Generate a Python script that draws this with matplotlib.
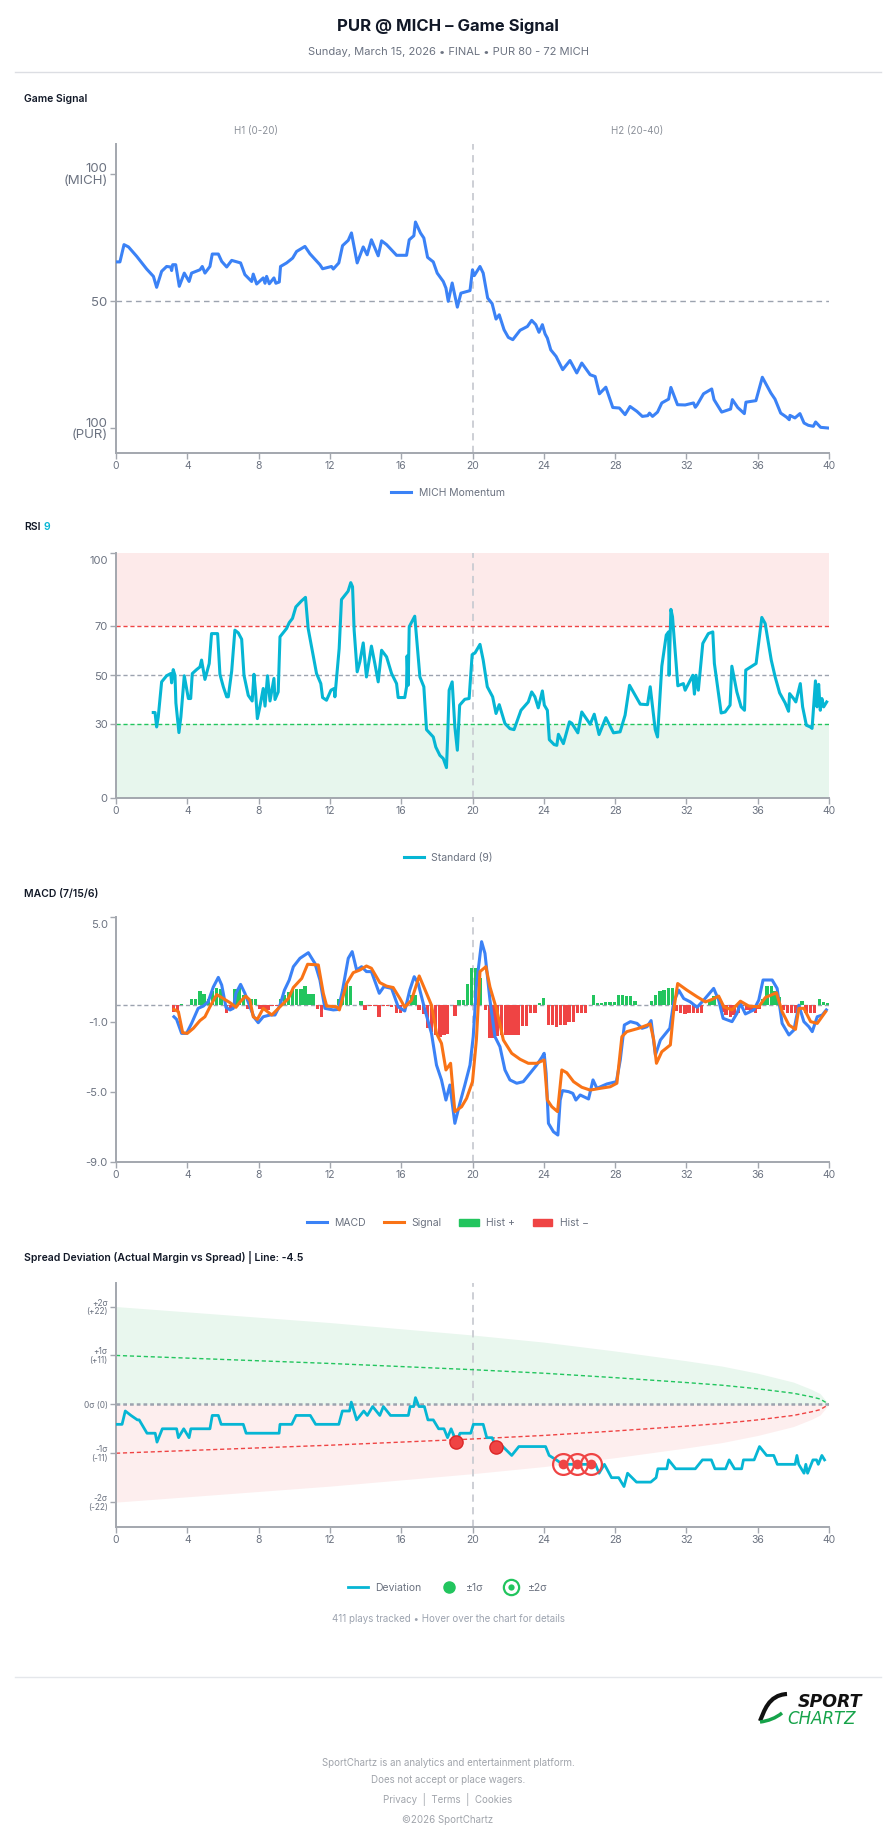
import numpy as np
import matplotlib
matplotlib.use('Agg')
import matplotlib.pyplot as plt
from matplotlib.lines import Line2D
from matplotlib.patches import Patch, PathPatch
from matplotlib.path import Path
from matplotlib.legend_handler import HandlerTuple
from matplotlib.transforms import ScaledTranslation

plt.rcParams['font.family'] = ['Inter', 'DejaVu Sans']

W, H = 896, 1845
def fx(px): return px / W
def fy(py): return 1 - py / H

BLUE = '#3b82f6'; CYAN = '#06b6d4'; ORANGE = '#f97316'
GREEN = '#22c55e'; RED = '#ef4444'; GRAY = '#6b7280'; AX = '#a3a7ae'

# ---- data (game minute, value) ----
momentum = [(0,65.4),(0.22,65.4),(0.45,72.2),(0.7,71.3),(1.16,67.6),(1.72,62.6),(2.1,59.7),(2.28,55.4),(2.56,61.7),(2.84,63.6),(3.07,63.4),(3.12,62.0),(3.18,64.3),(3.35,64.3),(3.55,55.8),(3.83,61.0),(4.1,57.7),(4.24,61.0),(4.71,62.3),(4.84,63.6),(4.99,61.0),(5.27,63.6),(5.4,68.5),(5.74,68.5),(5.93,65.6),(6.21,63.4),(6.49,66.0),(6.99,65.0),(7.23,60.4),(7.61,57.7),(7.7,60.6),(7.89,56.7),(8.26,59.1),(8.36,57.0),(8.45,59.7),(8.6,56.8),(8.86,59.1),(8.97,57.0),(9.16,57.5),(9.23,63.6),(9.57,65.0),(9.91,66.9),(10.13,69.5),(10.6,71.5),(10.88,68.6),(11.44,64.3),(11.59,62.7),(12.09,63.6),(12.19,62.6),(12.5,65.0),(12.71,71.8),(13.03,73.9),(13.21,76.8),(13.53,65.0),(13.87,71.3),(14.09,68.2),(14.33,74.1),(14.71,67.8),(14.9,73.7),(15.18,72.2),(15.74,68.0),(16.3,68.0),(16.45,74.1),(16.71,75.7),(16.8,81.1),(17.08,76.8),(17.27,74.8),(17.48,67.2),(17.8,65.4),(18.02,61.0),(18.36,57.7),(18.51,55.1),(18.64,49.9),(18.86,57.1),(19.15,47.6),(19.35,53.1),(19.86,54.1),(20.0,62.3),(20.1,60.0),(20.42,63.6),(20.6,61.0),(20.85,51.2),(21.1,49.0),(21.32,42.9),(21.5,44.6),(21.77,38.7),(22.01,35.7),(22.26,34.8),(22.67,38.5),(23.08,40.0),(23.32,42.4),(23.55,40.7),(23.73,37.7),(23.92,40.7),(24.07,37.1),(24.2,35.4),(24.39,30.8),(24.69,28.2),(25.06,23.0),(25.47,26.6),(25.85,21.7),(26.13,25.6),(26.6,21.0),(26.88,20.3),(27.12,13.5),(27.48,16.1),(27.87,8.1),(28.24,7.9),(28.56,5.3),(28.84,8.5),(29.22,6.6),(29.53,4.6),(29.83,4.9),(29.93,5.9),(30.1,4.6),(30.38,6.3),(30.62,9.9),(31.0,11.4),(31.13,16.0),(31.5,9.2),(31.93,9.1),(32.4,9.9),(32.5,8.2),(32.6,9.1),(32.96,13.5),(33.42,15.4),(33.55,11.2),(33.98,6.3),(34.48,7.5),(34.58,11.2),(34.88,8.1),(35.25,5.7),(35.34,10.2),(35.9,10.8),(36.26,20.0),(36.74,13.8),(36.97,11.4),(37.29,5.9),(37.62,4.3),(37.77,3.3),(37.81,5.0),(38.09,4.0),(38.37,5.7),(38.6,2.0),(38.84,1.1),(39.12,0.7),(39.25,2.4),(39.53,0.3),(40.0,0.0)]

rsi = [(2.09,34.9),(2.19,34.9),(2.28,29.0),(2.37,33.1),(2.56,47.4),(2.84,49.9),(3.07,50.8),(3.12,47.0),(3.21,52.4),(3.31,50.0),(3.36,38.8),(3.53,26.7),(3.64,33.1),(3.83,49.9),(4.06,40.6),(4.19,40.6),(4.28,50.8),(4.52,52.4),(4.71,53.5),(4.80,56.3),(4.99,48.4),(5.23,54.9),(5.36,67.1),(5.70,67.1),(5.83,50.5),(6.02,45.4),(6.21,41.3),(6.30,41.3),(6.49,51.8),(6.67,68.5),(6.86,67.4),(7.05,64.8),(7.18,50.1),(7.42,41.9),(7.64,39.6),(7.74,50.5),(7.83,43.3),(7.93,32.4),(8.07,37.2),(8.26,44.7),(8.36,37.5),(8.50,49.9),(8.64,39.6),(8.86,48.8),(8.92,40.2),(9.10,43.3),(9.20,65.8),(9.57,69.2),(9.72,71.6),(9.90,73.3),(10.09,78.0),(10.40,80.4),(10.63,81.9),(10.78,69.2),(10.97,61.7),(11.25,50.8),(11.49,46.7),(11.59,41.0),(11.81,39.9),(12.06,44.0),(12.24,44.7),(12.28,41.3),(12.52,61.0),(12.65,81.0),(13.02,84.4),(13.17,87.9),(13.27,86.2),(13.36,68.5),(13.53,51.5),(13.68,55.6),(13.87,63.3),(14.05,49.4),(14.33,62.0),(14.52,54.9),(14.71,47.4),(14.90,60.3),(15.18,57.6),(15.46,50.8),(15.74,46.7),(15.83,41.0),(16.20,41.0),(16.30,45.4),(16.33,58.0),(16.39,46.0),(16.45,69.9),(16.76,74.2),(17.05,49.4),(17.27,45.4),(17.42,27.9),(17.80,24.9),(17.94,20.8),(18.17,17.4),(18.36,16.1),(18.54,12.4),(18.60,23.6),(18.69,44.0),(18.86,47.4),(19.01,29.0),(19.15,19.5),(19.28,37.9),(19.57,40.3),(19.81,40.6),(19.98,58.5),(20.14,59.2),(20.42,62.7),(20.60,56.3),(20.83,45.4),(21.13,41.3),(21.32,34.5),(21.50,38.1),(21.82,30.4),(22.10,28.3),(22.33,27.9),(22.72,35.8),(23.13,39.2),(23.32,43.3),(23.50,41.3),(23.69,36.8),(23.92,43.7),(24.03,37.9),(24.20,35.8),(24.31,23.8),(24.58,21.8),(24.73,21.5),(24.82,26.0),(25.10,22.2),(25.44,31.1),(25.57,30.5),(25.91,26.6),(26.13,35.1),(26.60,30.1),(26.83,34.2),(27.10,25.9),(27.48,32.8),(27.91,26.6),(28.28,27.0),(28.56,33.8),(28.81,46.0),(29.41,38.3),(29.82,38.1),(29.97,45.4),(30.25,27.9),(30.38,24.9),(30.62,53.8),(30.87,66.5),(31.00,67.8),(31.03,50.1),(31.13,77.0),(31.22,74.0),(31.52,45.8),(31.83,46.7),(31.93,44.0),(32.36,50.1),(32.45,42.4),(32.54,50.1),(32.67,44.0),(32.92,63.1),(33.23,67.1),(33.48,67.8),(33.57,54.9),(33.95,34.7),(34.17,35.1),(34.45,37.9),(34.55,53.8),(34.83,43.3),(35.07,37.2),(35.26,35.8),(35.33,52.2),(35.91,54.9),(36.23,73.7),(36.42,71.2),(36.76,56.3),(36.98,49.4),(37.23,42.9),(37.54,38.8),(37.73,35.4),(37.79,42.6),(38.01,40.6),(38.14,39.2),(38.39,46.7),(38.52,37.2),(38.73,29.7),(38.95,29.0),(39.05,28.4),(39.24,47.8),(39.33,37.2),(39.42,46.4),(39.51,35.8),(39.60,40.6),(39.70,37.2),(39.87,39.2)]

macd = [(3.25,-0.7),(3.4,-0.85),(3.68,-1.65),(3.96,-1.65),(4.24,-1.08),(4.61,-0.22),(4.9,-0.09),(5.17,0.16),(5.46,1.0),(5.74,1.55),(5.93,1.11),(6.17,-0.16),(6.4,-0.31),(6.58,-0.22),(6.73,0.64),(6.99,1.15),(7.23,0.64),(7.51,-0.12),(7.74,-0.73),(7.98,-1.04),(8.26,-0.7),(8.64,-0.6),(8.92,-0.6),(9.2,-0.04),(9.45,0.82),(9.72,1.4),(9.95,2.16),(10.32,2.64),(10.79,2.96),(11.16,2.35),(11.44,1.4),(11.72,-0.22),(12.19,-0.31),(12.47,-0.28),(12.71,0.82),(13.03,2.64),(13.25,3.02),(13.5,1.97),(13.78,2.16),(14.05,1.88),(14.33,1.88),(14.77,0.64),(15.03,1.02),(15.46,0.92),(15.83,-0.13),(16.2,-0.37),(16.48,0.82),(16.73,1.59),(16.95,1.21),(17.33,-0.31),(17.7,-1.65),(17.98,-3.46),(18.26,-4.31),(18.51,-5.46),(18.73,-4.6),(19.01,-6.79),(19.29,-5.65),(19.57,-4.6),(19.86,-3.46),(20.04,-1.84),(20.23,1.2),(20.51,3.59),(20.7,2.92),(20.98,0.25),(21.26,-1.84),(21.54,-2.41),(21.82,-3.74),(22.1,-4.31),(22.48,-4.5),(22.85,-4.41),(23.23,-3.93),(23.6,-3.46),(23.89,-3.02),(24.02,-2.79),(24.13,-3.93),(24.26,-6.79),(24.54,-7.27),(24.79,-7.46),(24.92,-5.46),(25.05,-4.92),(25.39,-4.98),(25.63,-5.08),(25.8,-5.46),(26.04,-5.17),(26.51,-5.4),(26.76,-4.31),(26.98,-4.79),(27.54,-4.54),(28.07,-4.41),(28.29,-3.17),(28.52,-1.17),(28.86,-0.98),(29.23,-1.08),(29.51,-1.36),(29.79,-1.27),(30.02,-0.92),(30.26,-2.89),(30.54,-2.03),(30.77,-1.74),(31.07,-1.36),(31.29,0.15),(31.57,0.82),(31.85,0.34),(32.22,0.15),(32.6,-0.16),(32.97,0.25),(33.53,0.92),(33.81,0.25),(34.06,-0.79),(34.56,-0.98),(34.84,-0.5),(35.03,0.06),(35.31,-0.54),(35.78,-0.31),(36.06,0.25),(36.3,1.4),(36.81,1.4),(37.09,0.92),(37.37,-1.08),(37.75,-1.74),(38.03,-1.46),(38.31,-0.04),(38.59,-0.98),(38.87,-1.27),(39.06,-1.55),(39.34,-0.7),(39.62,-0.6),(39.85,-0.31)]

signal = [(3.25,-0.28),(3.5,-0.41),(3.74,-1.61),(4.0,-1.65),(4.34,-1.36),(4.71,-0.92),(4.99,-0.7),(5.27,-0.13),(5.65,0.57),(6.02,0.34),(6.4,0.1),(6.73,-0.16),(6.96,0.15),(7.28,0.48),(7.51,0.25),(7.7,-0.7),(7.93,-0.85),(8.26,-0.22),(8.74,-0.6),(9.2,-0.13),(9.67,0.34),(9.95,0.97),(10.42,1.49),(10.75,2.3),(11.35,2.26),(11.63,0.64),(11.82,-0.09),(12.38,-0.13),(12.53,-0.31),(12.94,1.2),(13.31,1.82),(13.68,1.97),(14.05,2.2),(14.33,2.07),(14.8,1.25),(15.18,1.05),(15.55,0.97),(15.93,0.34),(16.2,-0.16),(16.58,0.25),(17.01,1.63),(17.42,0.64),(17.7,-0.04),(17.98,-1.65),(18.26,-2.22),(18.51,-3.74),(18.77,-3.36),(19.01,-6.12),(19.39,-5.84),(19.67,-5.36),(20.0,-4.41),(20.22,-2.0),(20.42,1.88),(20.75,2.16),(20.98,1.0),(21.36,-0.31),(21.73,-2.03),(22.2,-2.79),(22.67,-3.13),(23.13,-3.36),(23.6,-3.36),(24.02,-3.17),(24.2,-5.46),(24.45,-5.84),(24.77,-6.12),(25.01,-3.74),(25.29,-3.9),(25.67,-4.41),(26.13,-4.73),(26.6,-4.89),(27.17,-4.79),(27.73,-4.7),(28.1,-4.5),(28.38,-1.84),(28.66,-1.55),(29.32,-1.36),(29.97,-1.11),(30.17,-2.03),(30.32,-3.36),(30.62,-2.7),(31.1,-2.31),(31.29,-0.31),(31.51,1.2),(32.03,0.82),(32.6,0.44),(33.07,0.15),(33.44,0.29),(33.81,0.48),(34.1,-0.13),(34.56,-0.31),(35.03,0.19),(35.5,-0.09),(36.06,-0.13),(36.43,0.4),(37.05,0.67),(37.37,-0.41),(37.75,-1.17),(38.12,-1.42),(38.31,-0.22),(38.59,-0.22),(38.97,-0.98),(39.34,-1.08),(39.81,-0.41)]

hist = [(3.22,-0.42),(3.45,-0.42),(3.68,0.03),(4.24,0.29),(4.47,0.29),(4.71,0.78),(4.94,0.59),(5.18,0.34),(5.42,0.78),(5.65,0.97),(5.89,0.91),(6.21,-0.51),(6.43,-0.23),(6.67,0.91),(6.90,0.97),(7.14,0.53),(7.37,-0.23),(7.60,0.34),(7.84,0.34),(8.07,-0.23),(8.30,-0.23),(8.53,-0.32),(8.76,-0.08),(8.99,-0.08),(9.22,0.34),(9.45,0.53),(9.68,0.72),(9.91,0.86),(10.14,0.91),(10.37,0.91),(10.60,1.05),(10.83,0.59),(11.06,0.59),(11.29,-0.23),(11.52,-0.70),(12.47,0.29),(12.70,0.86),(12.94,1.10),(13.17,1.07),(13.74,0.21),(13.97,-0.32),(14.25,-0.08),(14.53,-0.08),(14.76,-0.74),(15.00,-0.08),(15.23,-0.08),(15.47,-0.13),(15.75,-0.46),(15.97,-0.46),(16.58,0.57),(16.77,0.57),(17.00,-0.32),(17.24,-0.57),(17.48,-1.33),(17.71,-1.56),(17.93,-1.75),(18.17,-1.85),(18.40,-1.75),(18.59,-1.66),(19.02,-0.67),(19.25,0.25),(19.48,0.25),(19.71,1.20),(19.95,2.06),(20.17,2.06),(20.42,1.49),(20.74,-0.32),(20.98,-1.9),(21.2,-1.94),(21.4,-1.81),(21.64,-1.75),(21.88,-1.75),(22.1,-1.75),(22.33,-1.75),(22.55,-1.75),(22.8,-1.24),(23.04,-1.24),(23.26,-0.46),(23.5,-0.46),(23.75,0.10),(23.97,0.38),(24.25,-1.18),(24.48,-1.18),(24.72,-1.28),(24.95,-1.18),(25.19,-1.18),(25.42,-0.99),(25.66,-0.99),(25.88,-0.46),(26.12,-0.46),(26.35,-0.46),(26.78,0.53),(27.0,0.06),(27.25,0.06),(27.47,0.15),(27.72,0.15),(27.95,0.15),(28.18,0.53),(28.41,0.53),(28.65,0.50),(28.87,0.50),(29.12,0.21),(29.58,-0.02),(30.05,0.19),(30.28,0.53),(30.52,0.76),(30.74,0.82),(30.99,0.97),(31.21,0.97),(31.45,-0.38),(31.68,-0.46),(31.92,-0.57),(32.15,-0.46),(32.39,-0.46),(32.61,-0.51),(32.86,-0.51),(33.32,0.25),(33.55,0.5),(34.0,-0.42),(34.23,-0.61),(34.46,-0.7),(34.68,-0.61),(34.92,-0.51),(35.15,-0.08),(35.4,-0.32),(35.62,-0.42),(35.86,-0.46),(36.08,-0.23),(36.29,0.34),(36.52,1.07),(36.76,1.07),(36.98,0.76),(37.2,0.44),(37.45,-0.32),(37.68,-0.51),(37.91,-0.51),(38.14,-0.51),(38.48,0.21),(38.71,-0.51),(38.95,-0.51),(39.18,-0.51),(39.45,0.34),(39.7,0.15),(39.93,0.06)]

deviation = [(0,-4.5),(0.34,-4.5),(0.52,-1.5),(0.84,-2.5),(1.2,-3.5),(1.3,-3.5),(1.74,-6.5),(2.2,-6.5),(2.3,-8.5),(2.6,-5.5),(3.4,-5.5),(3.5,-7.5),(3.8,-5.5),(4.1,-7.5),(4.2,-5.5),(5.27,-5.5),(5.4,-2.5),(5.74,-2.5),(5.9,-4.5),(7.14,-4.5),(7.3,-6.5),(9.15,-6.5),(9.2,-4.5),(9.86,-4.5),(10.1,-2.5),(10.9,-2.5),(11.2,-4.5),(12.5,-4.5),(12.7,-1.5),(13.1,-1.5),(13.2,0.5),(13.5,-3.5),(13.9,-1.5),(14.1,-2.5),(14.4,-0.5),(14.8,-2.5),(15.0,-0.5),(15.4,-2.5),(16.4,-2.5),(16.5,-0.5),(16.7,-0.5),(16.8,1.5),(17.0,-0.5),(17.3,-0.5),(17.5,-3.5),(17.8,-3.5),(18.1,-5.5),(18.4,-5.5),(18.6,-7.5),(18.8,-5.5),(19.1,-8.5),(19.3,-6.5),(19.9,-6.5),(20.05,-4.5),(20.6,-4.5),(20.8,-7.5),(21.1,-7.5),(21.3,-9.5),(21.7,-9.5),(22.2,-11.5),(22.6,-9.5),(24.1,-9.5),(24.3,-11.5),(24.7,-12.5),(25.06,-13.5),(26.63,-13.5),(26.9,-13.5),(27.1,-15.5),(27.4,-13.5),(27.8,-16.5),(28.2,-16.5),(28.5,-18.5),(28.7,-15.5),(29.2,-17.5),(30.0,-17.5),(30.3,-16.5),(30.4,-14.5),(30.9,-14.5),(31.0,-12.5),(31.4,-14.5),(32.5,-14.5),(32.9,-12.5),(33.4,-12.5),(33.6,-14.5),(34.2,-14.5),(34.4,-12.5),(34.7,-14.5),(35.1,-14.5),(35.2,-12.5),(35.8,-12.5),(36.1,-9.5),(36.5,-11.5),(36.9,-11.5),(37.1,-13.5),(38.1,-13.5),(38.2,-11.5),(38.3,-13.5),(38.6,-15.5),(38.7,-13.5),(38.8,-15.5),(39.1,-12.5),(39.3,-12.5),(39.4,-13.5),(39.6,-11.5),(39.75,-12.5)]

sigma_t = [0, 4, 8, 12, 16, 20, 24, 28, 32, 34, 36, 37, 38, 39, 39.5, 40]
sigma_v = [11.0, 10.4, 9.8, 9.2, 8.5, 7.8, 7.0, 6.0, 4.9, 4.3, 3.5, 3.0, 2.5, 1.7, 1.2, 0.0]

hits_1s = [(19.1, -8.5), (21.3, -9.5)]
hits_2s = [(25.06, -13.5), (25.84, -13.5), (26.63, -13.5)]

xticks = list(range(0, 41, 4))


def panel(top, bottom, ylim):
    ax = fig.add_axes([fx(116), fy(bottom), (829 - 116) / W, (bottom - top) / H])
    ax.set_xlim(0, 40)
    ax.set_ylim(*ylim)
    for s in ['top', 'right']:
        ax.spines[s].set_visible(False)
    for s in ['left', 'bottom']:
        ax.spines[s].set_color(AX)
        ax.spines[s].set_linewidth(1.4)
    ax.set_xticks(xticks)
    ax.tick_params(colors=AX, labelcolor=GRAY, labelsize=7.5, length=4, width=1, pad=2)
    ax.axvline(20, color='#c9ccd2', ls=(0, (4, 3)), lw=1.3, zorder=1)
    ax.set_facecolor('none')
    return ax


def nudge_top_label(ax, px):
    # top y label sits a little below its tick in the reference
    lbl = ax.get_yticklabels()[0]
    lbl.set_transform(lbl.get_transform() + ScaledTranslation(0, -px / 100, fig.dpi_scale_trans))


def xy(pts):
    a = np.array(pts)
    return a[:, 0], a[:, 1]


fig = plt.figure(figsize=(W / 100, H / 100), dpi=100)

# header
fig.text(0.5, fy(26), 'PUR @ MICH – Game Signal', ha='center', va='center',
         fontsize=12, fontweight='bold', color='#111827')
fig.text(0.5, fy(52), 'Sunday, March 15, 2026 • FINAL • PUR 80 - 72 MICH', ha='center',
         va='center', fontsize=8, color=GRAY)
fig.add_artist(Line2D([fx(15), fx(881)], [fy(72), fy(72)], color='#dcdee3', lw=1))

# 1. game signal
fig.text(fx(24), fy(99), 'Game Signal', va='center', fontsize=7.5, fontweight='semibold', color='#111827')
ax1 = panel(144, 453, (-9.8, 111.8))
ax1.axhline(50, color='#9ca3af', ls=(0, (4, 3)), lw=1)
t, v = xy(momentum)
ax1.plot(t, v, color=BLUE, lw=2.2, solid_joinstyle='round', label='MICH Momentum', zorder=3)
ax1.set_yticks([0, 50, 100])
ax1.set_yticklabels(['100\n(PUR)', '50', '100\n(MICH)'], fontsize=9.5, linespacing=0.9)
fig.text(fx(256), fy(131), 'H1 (0-20)', ha='center', va='center', fontsize=7, color='#8b9099')
fig.text(fx(637), fy(131), 'H2 (20-40)', ha='center', va='center', fontsize=7, color='#8b9099')
fig.legend(handles=[Line2D([], [], color=BLUE, lw=2.2)], labels=['MICH Momentum'], loc='center',
           bbox_to_anchor=(0.5, fy(493)), frameon=False, fontsize=7.5, labelcolor=GRAY,
           handlelength=1.9, handletextpad=0.7)

# 2. RSI
fig.text(fx(24), fy(527), 'RSI', va='center', fontsize=7.5, fontweight='semibold', color='#111827')
fig.text(fx(43), fy(527), '9', va='center', fontsize=7.5, fontweight='semibold', color=CYAN)
ax2 = panel(553, 798, (0, 100))
ax2.axhspan(70, 100, color='#fdeaea', lw=0, zorder=0)
ax2.axhspan(0, 30, color='#e7f6ed', lw=0, zorder=0)
ax2.axhline(70, color=RED, ls=(0, (3, 2)), lw=1)
ax2.axhline(50, color='#9ca3af', ls=(0, (3, 2)), lw=1)
ax2.axhline(30, color=GREEN, ls=(0, (3, 2)), lw=1)
t, v = xy(rsi)
ax2.plot(t, v, color=CYAN, lw=2.2, solid_joinstyle='round', zorder=3)
ax2.set_yticks([100, 70, 50, 30, 0])
ax2.set_yticklabels(['100', '70', '50', '30', '0'], fontsize=8)
nudge_top_label(ax2, 7)
fig.legend(handles=[Line2D([], [], color=CYAN, lw=2.2)], labels=['Standard (9)'], loc='center',
           bbox_to_anchor=(0.5, fy(858)), frameon=False, fontsize=7.5, labelcolor=GRAY,
           handlelength=1.9, handletextpad=0.7)

# 3. MACD
fig.text(fx(24), fy(894), 'MACD (7/15/6)', va='center', fontsize=7.5, fontweight='semibold', color='#111827')
ax3 = panel(917, 1162, (-9, 5))
ax3.axhline(0, color='#9ca3af', ls=(0, (3, 2)), lw=1, zorder=1)
ht, hv = xy(hist)
ax3.bar(ht, hv, width=0.19, color=np.where(hv >= 0, GREEN, RED), lw=0, zorder=2)
t, v = xy(macd)
ax3.plot(t, v, color=BLUE, lw=2.2, solid_joinstyle='round', zorder=3)
t, v = xy(signal)
ax3.plot(t, v, color=ORANGE, lw=2.2, solid_joinstyle='round', zorder=4)
ax3.set_yticks([5, -1, -5, -9])
ax3.set_yticklabels(['5.0', '-1.0', '-5.0', '-9.0'], fontsize=8)
nudge_top_label(ax3, 7)
fig.legend(handles=[Line2D([], [], color=BLUE, lw=2.2), Line2D([], [], color=ORANGE, lw=2.2),
                    Patch(color=GREEN), Patch(color=RED)],
           labels=['MACD', 'Signal', 'Hist +', 'Hist −'], loc='center', ncol=4,
           bbox_to_anchor=(0.5, fy(1223)), frameon=False, fontsize=7.5, labelcolor=GRAY,
           handlelength=1.9, handletextpad=0.7, columnspacing=1.7)

# 4. spread deviation
fig.text(fx(24), fy(1257), 'Spread Deviation (Actual Margin vs Spread) | Line: -4.5', va='center',
         fontsize=7.5, fontweight='semibold', color='#111827')
ax4 = panel(1283, 1527, (-27.6, 27.3))
st = np.array(sigma_t)
sv = np.array(sigma_v)
ax4.fill_between(st, 0, 2 * sv, color='#e9f7ee', lw=0, zorder=0)
ax4.fill_between(st, -2 * sv, 0, color='#fdeeee', lw=0, zorder=0)
ax4.plot(st, sv, color=GREEN, ls=(0, (3, 2)), lw=1, zorder=1)
ax4.plot(st, -sv, color=RED, ls=(0, (3, 2)), lw=1, zorder=1)
ax4.plot([0, 40], [0, 0], color='#9ca3af', ls=(0, (1.5, 1.2)), lw=1.8, zorder=1)
t, v = xy(deviation)
ax4.plot(t, v, color=CYAN, lw=2, solid_joinstyle='round', zorder=3)
t, v = xy(hits_1s)
ax4.plot(t, v, 'o', ms=9.5, mfc=RED, mec='#dc2626', mew=1, zorder=5)
t, v = xy(hits_2s)
ax4.plot(t, v, 'o', ms=15, mfc='none', mec=RED, mew=1.6, zorder=5)
ax4.plot(t, v, 'o', ms=7, mfc=RED, mec='none', zorder=6)
ax4.set_yticks([22, 11, 0, -11, -22])
ax4.set_yticklabels(['+2σ\n(+22)', '+1σ\n(+11)', '0σ (0)', '-1σ\n(-11)', '-2σ\n(-22)'],
                    fontsize=6, linespacing=0.95)
ring = (Line2D([], [], ls='none', marker='o', ms=11, mfc='white', mec=GREEN, mew=1.6),
        Line2D([], [], ls='none', marker='o', ms=4.5, mfc=GREEN, mec='none'))
fig.legend(handles=[Line2D([], [], color=CYAN, lw=2),
                    Line2D([], [], ls='none', marker='o', ms=8, mfc=GREEN, mec=GREEN), ring],
           labels=['Deviation', '±1σ', '±2σ'], loc='center', ncol=3,
           handler_map={tuple: HandlerTuple(ndivide=1)},
           bbox_to_anchor=(0.5, fy(1588)), frameon=False, fontsize=7.5, labelcolor=GRAY,
           handlelength=1.9, handletextpad=0.7, columnspacing=1.7)
fig.text(0.5, fy(1619), '411 plays tracked • Hover over the chart for details', ha='center',
         va='center', fontsize=7, color='#9ca3af')

# footer
fig.add_artist(Line2D([fx(15), fx(881)], [fy(1677), fy(1677)], color='#e5e7eb', lw=1))
swoosh = Path([(fx(787), fy(1694)), (fx(768), fy(1695)), (fx(764), fy(1712)), (fx(760), fy(1721))],
              [Path.MOVETO, Path.CURVE4, Path.CURVE4, Path.CURVE4])
fig.add_artist(PathPatch(swoosh, fill=False, lw=3, color='#111111', transform=fig.transFigure))
tail = Path([(fx(760), fy(1722)), (fx(768), fy(1721)), (fx(776), fy(1718)), (fx(782), fy(1713))],
            [Path.MOVETO, Path.CURVE4, Path.CURVE4, Path.CURVE4])
fig.add_artist(PathPatch(tail, fill=False, lw=2.5, color='#16a34a', transform=fig.transFigure))
fig.text(fx(862), fy(1702), 'SPORT', ha='right', va='center', fontsize=12.5, fontweight='heavy',
         fontstyle='italic', color='#111111', family=['DejaVu Sans'])
fig.text(fx(856), fy(1719), 'CHARTZ', ha='right', va='center', fontsize=12, fontstyle='italic',
         color='#16a34a', family=['DejaVu Sans'])

foot = '#a0a4ab'
fig.text(0.5, fy(1763), 'SportChartz is an analytics and entertainment platform.', ha='center',
         va='center', fontsize=7, color=foot)
fig.text(0.5, fy(1780), 'Does not accept or place wagers.', ha='center', va='center', fontsize=7, color=foot)
fig.text(0.5, fy(1800), 'Privacy  |  Terms  |  Cookies', ha='center', va='center', fontsize=7, color=foot)
fig.text(0.5, fy(1820), '©2026 SportChartz', ha='center', va='center', fontsize=7, color=foot)

fig.savefig('out.png', dpi=100, facecolor='white')
